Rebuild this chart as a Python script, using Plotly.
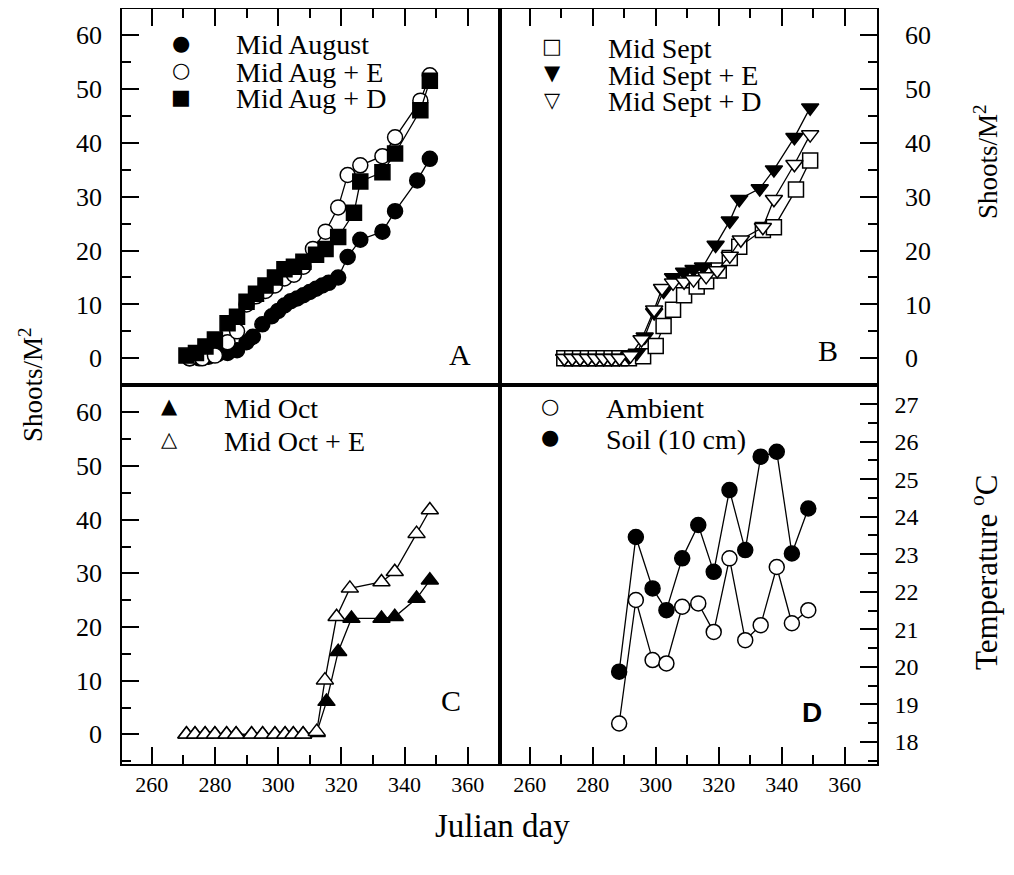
import plotly.graph_objects as go

# ---------------- data ----------------
# Panel A
aug_day = [272, 275, 278, 281, 284, 287, 290, 292, 295, 298, 300, 302, 304, 306, 308, 310, 312, 314, 316, 319, 322, 326, 333, 337, 344, 348]
aug_val = [0, 0, 0.3, 0.8, 1, 1.5, 3, 4, 6.3, 7.8, 8.8, 9.8, 10.6, 11.1, 11.7, 12.3, 12.9, 13.5, 14.0, 15.0, 18.8, 22, 23.5, 27.3, 33, 37]
auge_day = [272, 276, 280, 284, 287, 290, 293, 296, 299, 302, 305, 308, 311, 315, 319, 322, 326, 333, 337, 345, 348]
auge_val = [0, 0, 0.5, 3, 5, 10, 11.5, 12.5, 13.5, 14.8, 15.5, 17, 20.3, 23.5, 28, 34, 35.8, 37.5, 41, 47.8, 52.5]
augd_day = [271, 274, 277, 280, 284, 287, 290, 293, 296, 299, 302, 305, 308, 312, 315, 319, 324, 326, 333, 337, 345, 348]
augd_val = [0.5, 1, 2.2, 3.5, 6.5, 7.7, 10.5, 12, 13.5, 15, 16.5, 17, 17.9, 19.2, 20.3, 22.5, 27, 32.8, 34.5, 38, 46, 51.5]

# Panel B
sep_day = [271, 273.5, 276, 278.5, 281, 283.5, 286, 288.5, 291.5, 296, 300, 302.5, 305.5, 309, 313, 316, 320, 323.5, 326.5, 334, 337.5, 344.5, 349]
sep_val = [0, 0, 0, 0, 0, 0, 0, 0, 0, 0.4, 2.3, 6, 9, 11.7, 13.3, 14.3, 16.3, 18.6, 20.7, 23.8, 24.3, 31.3, 36.7]
sepe_day = [271, 273.5, 276, 278.5, 281, 283.5, 286, 288.5, 291.5, 294, 296.5, 299.5, 302.5, 305.5, 309, 312, 315, 319, 323.5, 326.5, 333, 337.5, 344, 349]
sepe_val = [0, 0, 0, 0, 0, 0, 0, 0, 0.3, 1, 4, 8.5, 12.5, 15, 16, 16.5, 17, 21, 25.5, 29.5, 31.5, 35, 41, 46.5]
sepd_day = [271, 273.5, 276, 278.5, 281, 283.5, 286, 288.5, 292, 295.5, 299.5, 302, 305.5, 309, 312, 316, 319.5, 323.5, 327, 334, 337.5, 344, 349]
sepd_val = [0, 0, 0, 0, 0, 0, 0, 0, 0.5, 3.5, 9, 13, 14, 14.2, 14.6, 15.2, 16.3, 19, 22, 24.3, 29.5, 36, 41.5]

# Panel C
oct_day = [271, 273.7, 276.9, 280, 283.7, 286.7, 291.6, 295.1, 299, 302.2, 304.8, 307.9, 312.2, 315.3, 319, 323.2, 332.7, 336.9, 343.8, 348]
oct_val = [0, 0, 0, 0, 0, 0, 0, 0, 0, 0, 0, 0, 0.3, 6.1, 15.4, 21.6, 21.6, 21.9, 25.3, 28.7]
octe_day = [271, 273.7, 276.9, 280, 283.7, 286.7, 291.6, 295.1, 299, 302.2, 304.8, 307.9, 312.2, 314.8, 318.5, 322.7, 332.7, 336.9, 343.8, 348]
octe_val = [0, 0, 0, 0, 0, 0, 0, 0, 0, 0, 0, 0, 0.5, 10.1, 21.9, 27.2, 28.4, 30.3, 37.4, 41.8]

# Panel D
temp_day = [288.4, 293.7, 299, 303.4, 308.4, 313.5, 318.4, 323.4, 328.4, 333.3, 338.4, 343.2, 348.4]
ambient = [18.49, 21.78, 20.18, 20.09, 21.6, 21.69, 20.93, 22.89, 20.71, 21.11, 22.66, 21.16, 21.51]
soil = [19.87, 23.46, 22.09, 21.51, 22.89, 23.78, 22.53, 24.71, 23.11, 25.6, 25.73, 23.02, 24.22]

# legend entries: (label, glyph) per panel
legend_a = [("Mid August", "●"), ("Mid Aug + E", "○"), ("Mid Aug + D", "■")]
legend_b = [("Mid Sept", "□"), ("Mid Sept + E", "▼"), ("Mid Sept + D", "▽")]
legend_c = [("Mid Oct", "▲"), ("Mid Oct + E", "△")]
legend_d = [("Ambient", "○"), ("Soil (10 cm)", "●")]

# ---------------- figure ----------------
FONT = "Liberation Serif"
SYMF = "DejaVu Sans"
OFF = 8  # page body margin
L, R, T, B = 122 - OFF, 137, 9 - OFF, 111
PW, PH = 755, 755
W, H = L + PW + R, T + PH + B


def px(x):
    return (x - OFF - L) / PW


def py(y):
    return 1 - (y - OFF - T) / PH


fig = go.Figure()

MS = 15
LW = 1.3


def add_series(x, y, xa, ya, name, symbol, filled):
    fig.add_trace(go.Scatter(x=x, y=y, mode="lines+markers", xaxis=xa, yaxis=ya, name=name,
                             showlegend=False,
                             line=dict(color="black", width=LW),
                             marker=dict(symbol=symbol, size=MS,
                                         color="black" if filled else "white",
                                         line=dict(color="black", width=1.5))))


add_series(aug_day, aug_val, "x", "y", "Mid August", "circle", True)
add_series(auge_day, auge_val, "x", "y", "Mid Aug + E", "circle", False)
add_series(augd_day, augd_val, "x", "y", "Mid Aug + D", "square", True)

add_series(sep_day, sep_val, "x2", "y2", "Mid Sept", "square", False)
add_series(sepe_day, sepe_val, "x2", "y2", "Mid Sept + E", "triangle-down", True)
add_series(sepd_day, sepd_val, "x2", "y2", "Mid Sept + D", "triangle-down", False)

add_series(oct_day, oct_val, "x3", "y3", "Mid Oct", "triangle-up", True)
add_series(octe_day, octe_val, "x3", "y3", "Mid Oct + E", "triangle-up", False)

add_series(temp_day, ambient, "x4", "y4", "Ambient", "circle", False)
add_series(temp_day, soil, "x4", "y4", "Soil (10 cm)", "circle", True)

xr = [250.6, 370.2]
midx = px(500)
midy = py(385)


def xaxis(domain, anchor, side, labels):
    return dict(domain=domain, anchor=anchor, range=xr, side=side, automargin=False,
                showline=True, linecolor="black", linewidth=1.5, mirror=True,
                showgrid=False, zeroline=False,
                tickmode="linear", tick0=260, dtick=20,
                ticks="inside", ticklen=17, tickwidth=2, tickcolor="black",
                showticklabels=labels,
                tickfont=dict(family=FONT, size=22, color="black"),
                minor=dict(dtick=10, tick0=260, ticks="inside", ticklen=9,
                           tickwidth=2, tickcolor="black", showgrid=False))


def yaxis(domain, anchor, side, rng, t0, dt, minor_dt, size, standoff):
    return dict(domain=domain, anchor=anchor, range=rng, side=side, automargin=False,
                showline=True, linecolor="black", linewidth=1.5, mirror=True,
                showgrid=False, zeroline=False,
                tickmode="linear", tick0=t0, dtick=dt,
                ticks="inside", ticklen=17, tickwidth=2, tickcolor="black",
                tickfont=dict(family=FONT, size=size, color="black"),
                ticklabelstandoff=standoff,
                minor=dict(dtick=minor_dt, tick0=t0, ticks="inside", ticklen=9,
                           tickwidth=2, tickcolor="black", showgrid=False))


fig.update_layout(
    width=W, height=H,
    margin=dict(l=L, r=R, t=T, b=B, autoexpand=False),
    paper_bgcolor="white", plot_bgcolor="white",
    font=dict(family=FONT, size=22, color="black"),
    showlegend=False,
    xaxis=xaxis([0, midx], "y", "top", False),
    xaxis2=xaxis([midx, 1], "y2", "top", False),
    xaxis3=xaxis([0, midx], "y3", "bottom", True),
    xaxis4=xaxis([midx, 1], "y4", "bottom", True),
    yaxis=yaxis([midy, 1], "x", "left", [-4.95, 64.8], 0, 10, 5, 26, 13),
    yaxis2=yaxis([midy, 1], "x2", "right", [-4.95, 64.8], 0, 10, 5, 26, 21),
    yaxis3=yaxis([0, midy], "x3", "left", [-5.53, 65.1], 0, 10, 5, 26, 13),
    yaxis4=yaxis([0, midy], "x4", "right", [17.41, 27.51], 18, 1, 0.5, 24, 11),
)

ann = []


def add_text(x, y, text, size=22, angle=0, family=FONT, bold=False, xanchor="center"):
    if bold:
        text = "<b>" + text + "</b>"
    ann.append(dict(x=px(x), y=py(y), xref="paper", yref="paper", text=text,
                    showarrow=False, textangle=angle,
                    font=dict(family=family, size=size, color="black"),
                    xanchor=xanchor, yanchor="middle"))


def add_legend(entries, sym_x, text_x, y0, dy):
    for i, (label, glyph) in enumerate(entries):
        y = y0 + i * dy
        add_text(sym_x, y, glyph, 21, family=SYMF)
        add_text(text_x, y + 2, label, 28, xanchor="left")


add_legend(legend_a, 181, 234, 43, 27)
add_legend(legend_b, 552, 606, 46, 27)
add_legend(legend_c, 169, 222, 406, 33)
add_legend(legend_d, 550, 604, 406, 31)

add_text(460, 355, "A", 30)
add_text(828, 350, "B", 30)
add_text(451, 700, "C", 30)
add_text(812, 712, "D", 28, family="Liberation Sans", bold=True)
add_text(31, 385, "Shoots/M<sup>2</sup>", 27, angle=-90)
add_text(986, 162, "Shoots/M<sup>2</sup>", 27, angle=-90)
add_text(984, 572, "Temperature <sup>o</sup>C", 31, angle=-90)
add_text(502, 826, "Julian day", 33)
fig.update_layout(annotations=ann)

fig.write_html("out.html")
